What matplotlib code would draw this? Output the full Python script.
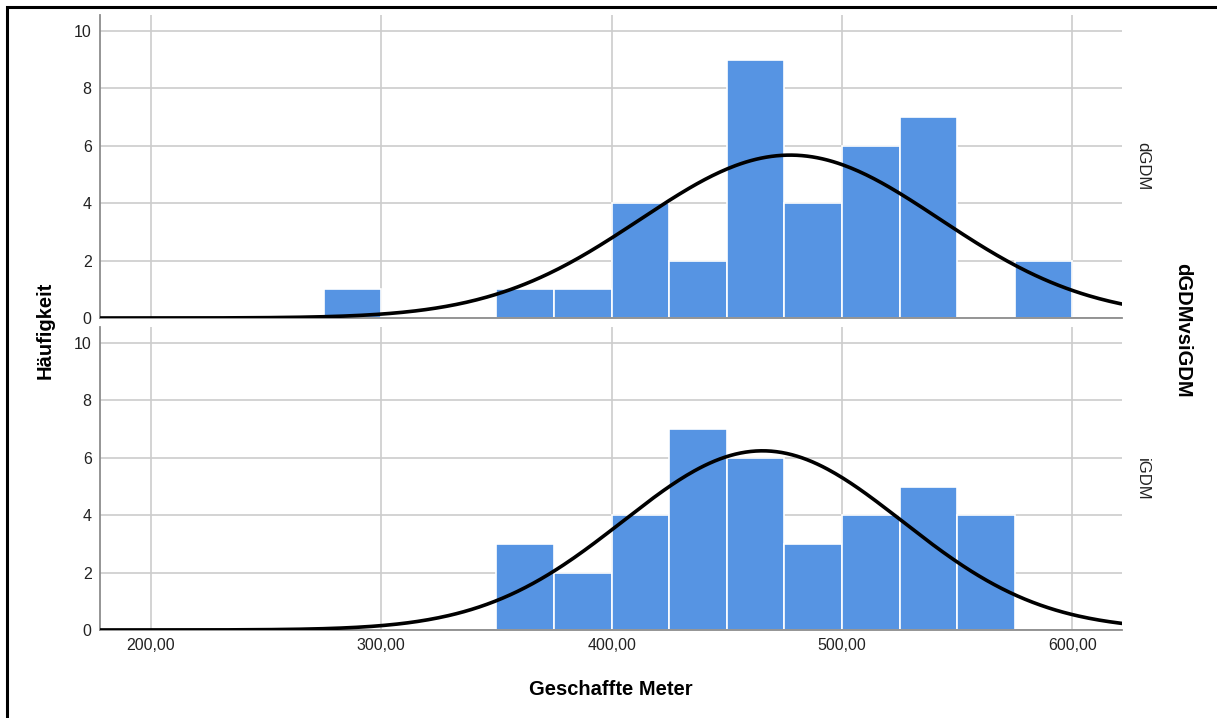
import numpy as np
import matplotlib
matplotlib.use('Agg')
import matplotlib.pyplot as plt
from matplotlib.patches import Rectangle

plt.rcParams['font.family'] = ['Liberation Sans', 'DejaVu Sans']

# Histogram bins (lower edges, width 25 m) and counts per group.
bin_width = 25
dgdm_edges = [275, 300, 325, 350, 375, 400, 425, 450, 475, 500, 525, 550, 575]
dgdm_counts = [1, 0, 0, 1, 1, 4, 2, 9, 4, 6, 7, 0, 2]
igdm_edges = [350, 375, 400, 425, 450, 475, 500, 525, 550]
igdm_counts = [3, 2, 4, 7, 6, 3, 4, 5, 4]

# Fitted normal curve parameters (mean, standard deviation).
dgdm_mean, dgdm_sd = 477.5, 65.0
igdm_mean, igdm_sd = 465.5, 60.7

xticks = [200, 300, 400, 500, 600]
xtick_labels = ['200,00', '300,00', '400,00', '500,00', '600,00']
yticks = [0, 2, 4, 6, 8, 10]

bar_color = '#5694e3'
grid_color = '#cccccc'
spine_color = '#8c8c8c'
xmin, xmax = 177.9, 621.7

fig = plt.figure(figsize=(12.17, 7.18), dpi=100)
ax_top = fig.add_axes([0.0822, 0.5571, 0.840, 0.422])
ax_bot = fig.add_axes([0.0822, 0.1226, 0.840, 0.422])

panels = [
    (ax_top, dgdm_edges, dgdm_counts, dgdm_mean, dgdm_sd, 'dGDM', 0.768),
    (ax_bot, igdm_edges, igdm_counts, igdm_mean, igdm_sd, 'iGDM', 0.333),
]

xs = np.linspace(xmin, xmax, 400)
for ax, edges, counts, mu, sd, name, ypos in panels:
    ax.bar(edges, counts, width=bin_width, align='edge', color=bar_color,
           edgecolor='white', linewidth=1.2, zorder=2)
    n = sum(counts)
    ys = n * bin_width / (sd * np.sqrt(2 * np.pi)) * np.exp(-0.5 * ((xs - mu) / sd) ** 2)
    ax.plot(xs, ys, color='black', lw=2.6, zorder=3, solid_capstyle='butt')

    ax.set_xlim(xmin, xmax)
    ax.set_ylim(0, 10.56)
    ax.set_xticks(xticks)
    ax.set_yticks(yticks)
    ax.grid(True, color=grid_color, lw=1.2, zorder=0)
    ax.set_axisbelow(True)
    ax.tick_params(length=0, labelsize=11.5, colors='#222222', pad=6)
    for side in ['top', 'right']:
        ax.spines[side].set_visible(False)
    for side in ['left', 'bottom']:
        ax.spines[side].set_color(spine_color)
        ax.spines[side].set_linewidth(1.3)
    fig.text(0.939, ypos, name, rotation=270, ha='center', va='center',
             fontsize=12, color='#222222')

ax_top.set_xticklabels([])
ax_bot.set_xticklabels(xtick_labels)

fig.text(0.502, 0.040, 'Geschaffte Meter', ha='center', va='center',
         fontsize=14.5, fontweight='bold')
fig.text(0.037, 0.54, 'Häufigkeit', rotation=90, ha='center', va='center',
         fontsize=14.5, fontweight='bold')
fig.text(0.972, 0.54, 'dGDMvsiGDM', rotation=270, ha='center', va='center',
         fontsize=14.5, fontweight='bold')

# Outer frame (left and top edges visible).
fig.patches.append(Rectangle((6.5 / 1217, -0.1), 1.2, 1.1 - 6.5 / 718,
                             transform=fig.transFigure, fill=False,
                             edgecolor='black', linewidth=2.2))

fig.savefig('out.png', dpi=100)
